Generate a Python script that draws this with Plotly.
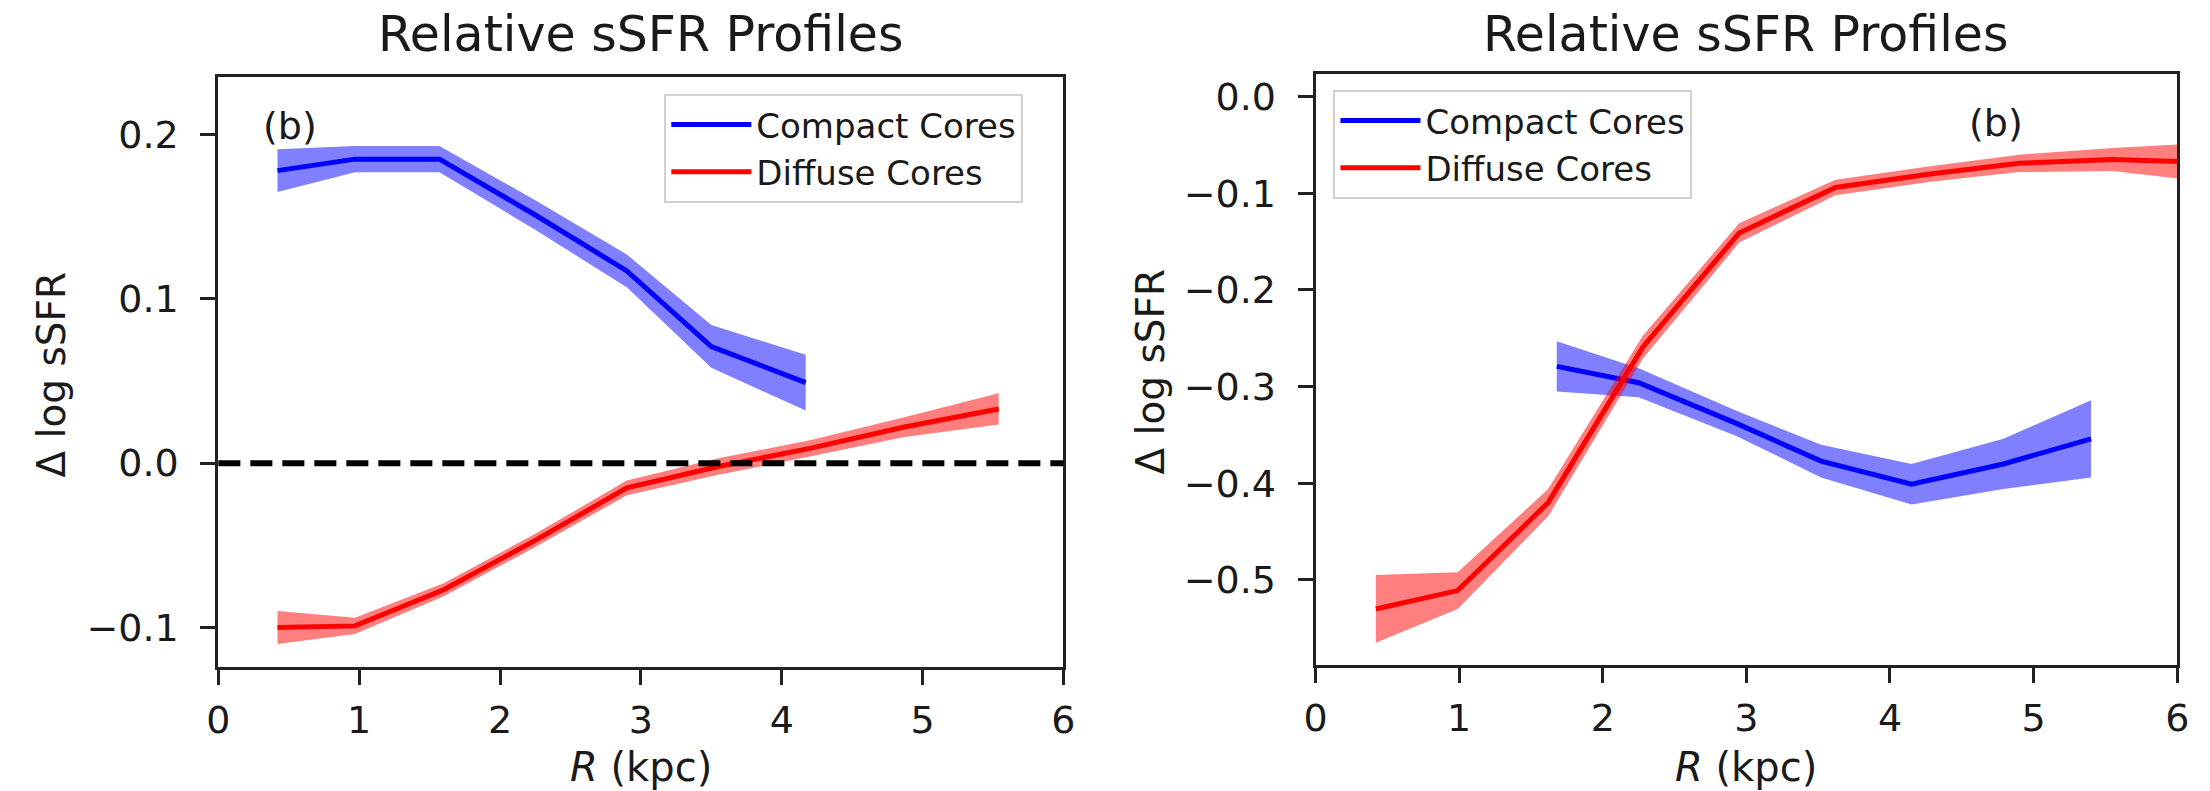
import plotly.graph_objects as go

# ---- panel (a): radial profiles, left ----
R_compact_a = [0.42, 0.97, 1.57, 2.25, 2.90, 3.50, 4.17]
compact_a = [0.178, 0.185, 0.185, 0.151, 0.117, 0.071, 0.049]
compact_a_err = [0.013, 0.008, 0.008, 0.009, 0.010, 0.013, 0.017]

R_diffuse_a = [0.42, 0.97, 1.60, 2.25, 2.90, 3.55, 4.20, 4.87, 5.54]
diffuse_a = [-0.100, -0.099, -0.077, -0.047, -0.015, -0.002, 0.009, 0.022, 0.033]
diffuse_a_err = [0.010, 0.005, 0.004, 0.004, 0.0045, 0.005, 0.005, 0.006, 0.0095]

# ---- panel (b): radial profiles, right ----
R_compact_b = [1.68, 2.25, 2.93, 3.52, 4.15, 4.79, 5.40]
compact_b = [-0.279, -0.296, -0.338, -0.377, -0.401, -0.380, -0.354]
compact_b_err = [0.026, 0.015, 0.013, 0.017, 0.021, 0.026, 0.040]

R_diffuse_b = [0.42, 0.99, 1.62, 2.28, 2.95, 3.62, 4.28, 4.90, 5.55, 6.20]
diffuse_b = [-0.530, -0.511, -0.420, -0.259, -0.141, -0.094, -0.080, -0.069, -0.065, -0.068]
diffuse_b_err = [0.035, 0.019, 0.014, 0.012, 0.010, 0.008, 0.008, 0.009, 0.012, 0.020]

series_names = ["Compact Cores", "Diffuse Cores"]
x_ticks = [0, 1, 2, 3, 4, 5, 6]

FONT = "DejaVu Sans"
INK = "#1a1a1a"
BLUE, BLUE_BAND = "#0000ff", "rgba(0,0,255,0.5)"
RED, RED_BAND = "#ff0000", "rgba(255,0,0,0.5)"

fig = go.Figure()


def add_profile(r, y, err, line_color, band_color, name, xa, ya, legend):
    lo = [v - e for v, e in zip(y, err)]
    hi = [v + e for v, e in zip(y, err)]
    # shaded uncertainty band
    fig.add_trace(go.Scatter(
        x=r + r[::-1], y=hi + lo[::-1], mode="lines", fill="toself",
        fillcolor=band_color, line=dict(width=0), hoverinfo="skip",
        showlegend=False, xaxis=xa, yaxis=ya))
    # median profile
    fig.add_trace(go.Scatter(
        x=r, y=y, mode="lines", name=name, line=dict(color=line_color, width=5),
        xaxis=xa, yaxis=ya, legend=legend, legendgroup=legend + name))


add_profile(R_compact_a, compact_a, compact_a_err, BLUE, BLUE_BAND, series_names[0], "x", "y", "legend")
add_profile(R_diffuse_a, diffuse_a, diffuse_a_err, RED, RED_BAND, series_names[1], "x", "y", "legend")
add_profile(R_compact_b, compact_b, compact_b_err, BLUE, BLUE_BAND, series_names[0], "x2", "y2", "legend2")
add_profile(R_diffuse_b, diffuse_b, diffuse_b_err, RED, RED_BAND, series_names[1], "x2", "y2", "legend2")

# zero reference in the left panel
fig.add_shape(type="line", xref="x domain", yref="y", x0=0, x1=1, y0=0, y1=0,
              line=dict(color="black", width=6, dash="22px,10px"))

axis_common = dict(
    showline=True, linecolor="#222222", linewidth=3, mirror=True,
    ticks="outside", ticklen=15, tickwidth=3, tickcolor="#222222",
    showgrid=False, zeroline=False,
    tickfont=dict(family=FONT, size=38, color=INK),
)
x_axis = dict(range=[0, 6], tickvals=x_ticks, ticklabelstandoff=2, **axis_common)
y_axis = dict(dtick=0.1, tick0=0, tickformat=".1f", ticklabelstandoff=14, **axis_common)

legend_common = dict(
    xanchor="left", yanchor="top",
    bgcolor="rgba(255,255,255,0.8)", bordercolor="#d0d0d0", borderwidth=2,
    font=dict(family=FONT, size=34, color=INK), tracegroupgap=0, itemwidth=80,
)

fig.update_layout(
    width=2210, height=791,
    margin=dict(l=0, r=0, t=0, b=0),
    paper_bgcolor="white", plot_bgcolor="white",
    font=dict(family=FONT, color=INK),
    xaxis=dict(domain=[0.0944, 0.4810], anchor="y", **x_axis),
    yaxis=dict(domain=[0.1568, 0.9027], range=[-0.124, 0.235], anchor="x", **y_axis),
    xaxis2=dict(domain=[0.5963, 0.9905], anchor="y2", **x_axis),
    yaxis2=dict(domain=[0.1593, 0.9065], range=[-0.588, 0.0235], anchor="x2", **y_axis),
    legend=dict(x=0.2984, y=0.8812, **legend_common),
    legend2=dict(x=0.6045, y=0.8862, **legend_common),
)

annotations = []
for xr in ("x", "x2"):
    annotations.append(dict(text="Relative sSFR Profiles", xref=xr + " domain", yref="paper",
                            x=0.5, y=0.9558, xanchor="center", yanchor="middle", showarrow=False,
                            font=dict(family=FONT, size=49, color=INK)))
    annotations.append(dict(text="<i>R</i> (kpc)", xref=xr + " domain", yref="paper",
                            x=0.5, y=0.03, xanchor="center", yanchor="middle", showarrow=False,
                            font=dict(family=FONT, size=40, color=INK)))
for xc, yc in ((40, 0.526), (1151, 0.5297)):
    annotations.append(dict(text="Δ log sSFR", xref="paper", yref="paper", x=xc / 2210, y=yc,
                            textangle=-90, xanchor="center", yanchor="middle", showarrow=False,
                            font=dict(family=FONT, size=39, color=INK)))
annotations.append(dict(text="(b)", xref="x", yref="y", x=0.51, y=0.205, showarrow=False,
                        xanchor="center", yanchor="middle", font=dict(family=FONT, size=38, color=INK)))
annotations.append(dict(text="(b)", xref="x2", yref="y2", x=4.74, y=-0.027, showarrow=False,
                        xanchor="center", yanchor="middle", font=dict(family=FONT, size=38, color=INK)))
fig.update_layout(annotations=annotations)

fig.write_html("out.html")
